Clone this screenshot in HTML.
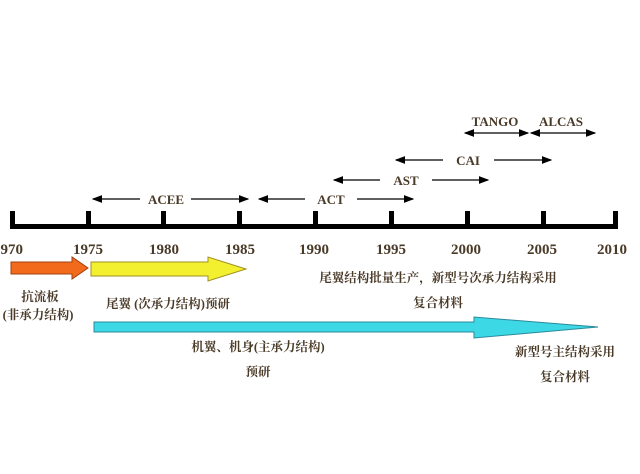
<!DOCTYPE html>
<html><head><meta charset="utf-8"><style>
body{margin:0;background:#fff}
</style></head><body>
<svg width="640" height="474" xmlns="http://www.w3.org/2000/svg" style="display:block">
<defs>
<marker id="a" markerWidth="8" markerHeight="6" refX="7" refY="3" orient="auto"><path d="M0,0L8,3L0,6z" fill="#000"/></marker>
<marker id="b" markerWidth="8" markerHeight="6" refX="1" refY="3" orient="auto"><path d="M8,0L0,3L8,6z" fill="#000"/></marker>
</defs>
<g fill="#000">
<rect x="10" y="224" width="607" height="5"/>
<rect x="10" y="211" width="5" height="18"/>
<rect x="86" y="211" width="5" height="18"/>
<rect x="161" y="211" width="5" height="18"/>
<rect x="237" y="211" width="5" height="18"/>
<rect x="313" y="211" width="5" height="18"/>
<rect x="389" y="211" width="5" height="18"/>
<rect x="465" y="211" width="5" height="18"/>
<rect x="541" y="211" width="5" height="18"/>
<rect x="613" y="211" width="5" height="18"/>
</g>
<g font-family="Liberation Serif,serif" font-weight="bold" font-size="15" fill="#4a3a28" text-anchor="middle">
<text x="8" y="254">1970</text><text x="88" y="254">1975</text><text x="164" y="254">1980</text>
<text x="240" y="254">1985</text><text x="314" y="254">1990</text><text x="391" y="254">1995</text>
<text x="466" y="254">2000</text><text x="542" y="254">2005</text><text x="612" y="254">2010</text>
</g>
<g stroke="#000" stroke-width="1.3" fill="none">
<line x1="93" y1="199" x2="140" y2="199" marker-start="url(#b)"/><line x1="191" y1="199" x2="248" y2="199" marker-end="url(#a)"/>
<line x1="259" y1="199" x2="305" y2="199" marker-start="url(#b)"/><line x1="357" y1="199" x2="413" y2="199" marker-end="url(#a)"/>
<line x1="334" y1="180" x2="380" y2="180" marker-start="url(#b)"/><line x1="432" y1="180" x2="488" y2="180" marker-end="url(#a)"/>
<line x1="396" y1="160" x2="443" y2="160" marker-start="url(#b)"/><line x1="494" y1="160" x2="551" y2="160" marker-end="url(#a)"/>
<line x1="465" y1="133" x2="528" y2="133" marker-start="url(#b)" marker-end="url(#a)"/>
<line x1="531" y1="133" x2="595" y2="133" marker-start="url(#b)" marker-end="url(#a)"/>
</g>
<g font-family="Liberation Serif,serif" font-weight="bold" font-size="13" fill="#4a3a28" text-anchor="middle">
<text x="166" y="204">ACEE</text><text x="331" y="204">ACT</text><text x="406" y="185">AST</text>
<text x="468" y="165">CAI</text><text x="495" y="126">TANGO</text><text x="561" y="126">ALCAS</text>
</g>
<path d="M11,262H72V257L88,268L72,279V274H11Z" fill="#f26a1b" stroke="#a04010" stroke-width="1"/>
<path d="M91,262H208V257L246,269L208,281V276H91Z" fill="#f3f030" stroke="#a09020" stroke-width="1"/>
<path d="M94,322H474V317L598,327L474,338V332H94Z" fill="#3cd8e6" stroke="#2a8a9a" stroke-width="1"/>
<g font-family="Liberation Serif,'Noto Serif CJK SC',serif" font-weight="bold" font-size="12.5" fill="#4a3a28" text-anchor="middle">
<text x="40" y="301">抗流板</text><text x="38" y="319">(非承力结构)</text>
<text x="168" y="308">尾翼 (次承力结构)预研</text>
<text x="438" y="282">尾翼结构批量生产，新型号次承力结构采用</text>
<text x="438" y="307">复合材料</text>
<text x="258" y="351">机翼、机身(主承力结构)</text>
<text x="258" y="376">预研</text>
<text x="565" y="356">新型号主结构采用</text>
<text x="565" y="381">复合材料</text>
</g>
</svg>
</body></html>
